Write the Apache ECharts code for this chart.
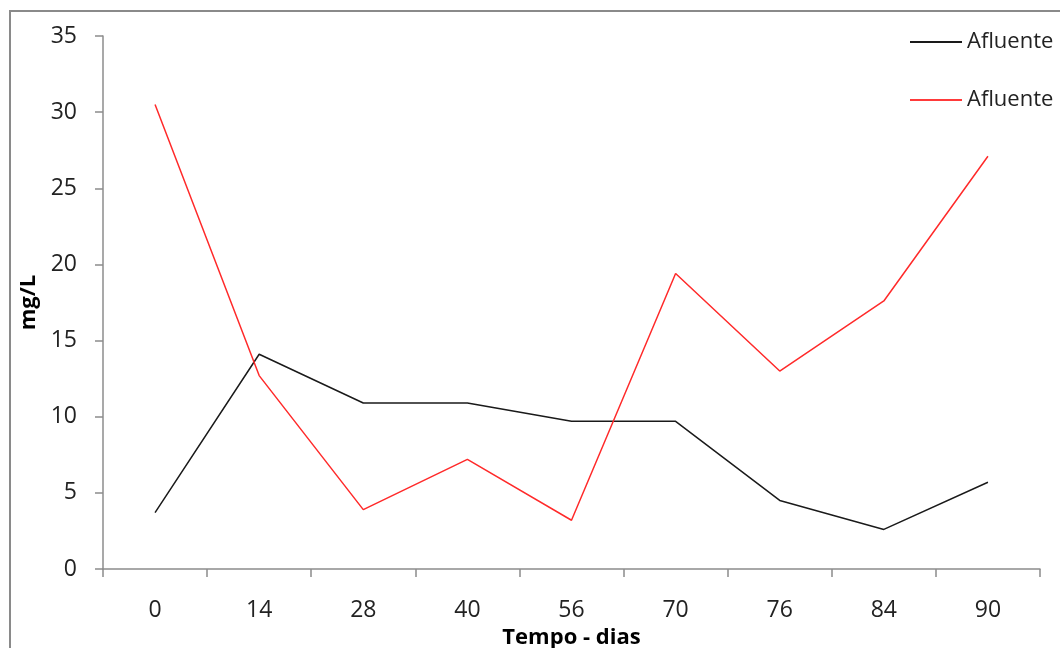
<!DOCTYPE html>
<html>
<head>
<meta charset="utf-8">
<script src="https://cdn.jsdelivr.net/npm/echarts@6/dist/echarts.min.js"></script>
<style>
html,body{margin:0;padding:0;background:#fff;}
#chart{width:1060px;height:648px;}
</style>
</head>
<body>
<div id="chart"></div>
<script>
const categories = ['0', '14', '28', '40', '56', '70', '76', '84', '90'];
const seriesBlackName = 'Afluente';
const seriesBlack = [3.7, 14.1, 10.9, 10.9, 9.7, 9.7, 4.5, 2.6, 5.7];
const seriesRedName = 'Afluente ';
const seriesRed = [30.5, 12.7, 3.9, 7.2, 3.2, 19.4, 13.0, 17.6, 27.1];
const xTitle = 'Tempo - dias';
const yTitle = 'mg/L';

const FONT = '"Open Sans", "Noto Sans", sans-serif';
const chart = echarts.init(document.getElementById('chart'), null, {renderer: 'canvas'});
chart.setOption({
  backgroundColor: '#ffffff',
  animation: false,
  graphic: [{
    type: 'rect', silent: true,
    shape: {x: 10, y: 11, width: 1200, height: 800},
    style: {fill: 'none', stroke: '#8a8a8a', lineWidth: 2}
  }],
  grid: {left: 103, right: 20, top: 36, bottom: 79, containLabel: false, outerBoundsMode: 'none'},
  legend: {
    orient: 'vertical',
    left: 910, top: 31,
    padding: 0,
    itemWidth: 52, itemHeight: 2, itemGap: 36,
    icon: 'rect',
    textStyle: {fontFamily: FONT, fontSize: 22, color: '#222', lineHeight: 20},
    formatter: function (n) { return n.trim(); },
    data: [seriesBlackName, seriesRedName]
  },
  xAxis: {
    type: 'category',
    data: categories,
    boundaryGap: true,
    name: xTitle,
    nameLocation: 'middle',
    nameGap: 52,
    nameTextStyle: {fontFamily: FONT, fontSize: 22, fontWeight: 'bold', color: '#000'},
    axisLine: {lineStyle: {color: '#8c8c8c', width: 1.5}},
    axisTick: {show: true, alignWithLabel: false, length: 8, lineStyle: {color: '#8c8c8c', width: 1.5}},
    axisLabel: {fontFamily: FONT, fontSize: 23, color: '#222', margin: 30},
    splitLine: {show: false}
  },
  yAxis: {
    type: 'value',
    min: 0, max: 35, interval: 5,
    name: yTitle,
    nameLocation: 'middle',
    nameRotate: 90,
    nameGap: 55,
    nameTextStyle: {fontFamily: FONT, fontSize: 22, fontWeight: 'bold', color: '#000'},
    axisLine: {show: true, lineStyle: {color: '#8c8c8c', width: 1.5}},
    axisTick: {show: true, length: 8, lineStyle: {color: '#8c8c8c', width: 1.5}},
    axisLabel: {fontFamily: FONT, fontSize: 23, color: '#222', margin: 26},
    splitLine: {show: false}
  },
  series: [
    {
      name: seriesBlackName, type: 'line', data: seriesBlack,
      symbol: 'none', lineStyle: {color: '#1a1a1a', width: 1.5}, itemStyle: {color: '#1a1a1a'}
    },
    {
      name: seriesRedName, type: 'line', data: seriesRed,
      symbol: 'none', lineStyle: {color: '#ff2a2a', width: 1.5}, itemStyle: {color: '#ff3a3a'}
    }
  ]
});
</script>
</body>
</html>
